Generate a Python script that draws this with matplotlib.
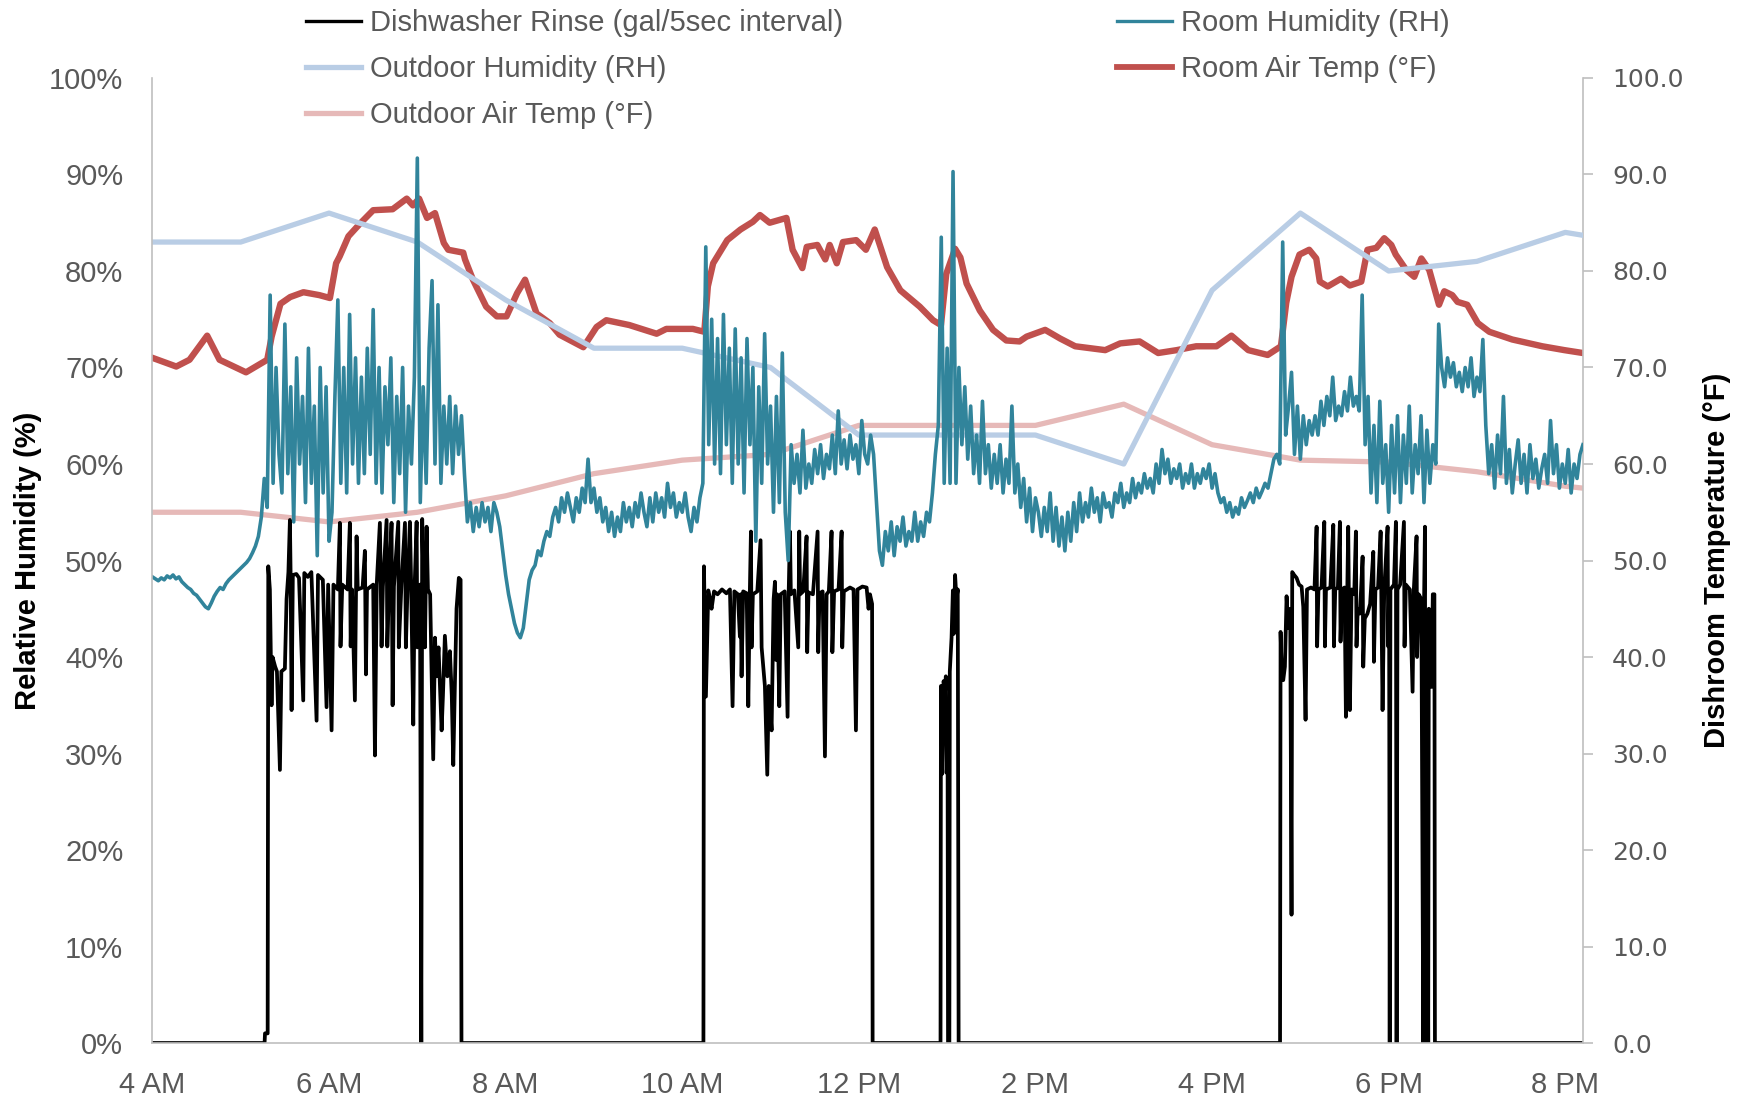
import numpy as np
import matplotlib
matplotlib.use('Agg')
import matplotlib.pyplot as plt
from matplotlib.lines import Line2D

# ---------------------------------------------------------------------------
# data (hours after midnight)

# outdoor weather station, hourly
out_hours = [4, 5, 6, 7, 8, 9, 10, 11, 12, 13, 14, 15, 16, 17, 18, 19, 20, 20.2]
outdoor_rh = [83, 83, 86, 83, 77, 72, 72, 70, 63, 63, 63, 60, 78, 86, 80, 81, 84, 83.7]
outdoor_temp = [55, 55, 54, 55, 56.7, 59, 60.4, 61, 64, 64, 64, 66.2, 62, 60.4, 60.2, 59.2, 57.7, 57.5]

# room air temperature (°F)
room_t_hours = [4.00, 4.27, 4.42, 4.62, 4.76, 5.06, 5.30, 5.35, 5.45, 5.56, 5.71, 5.89, 6.01,
                6.08, 6.12, 6.22, 6.35, 6.50, 6.72, 6.88, 6.95, 7.02, 7.11, 7.20, 7.30, 7.35,
                7.52, 7.54, 7.63, 7.78, 7.90, 8.01, 8.13, 8.22, 8.35, 8.50, 8.61, 8.88, 9.03,
                9.14, 9.40, 9.71, 9.82, 10.12, 10.25, 10.29, 10.35, 10.51, 10.66, 10.80, 10.88,
                10.99, 11.18, 11.25, 11.36, 11.41, 11.53, 11.62, 11.67, 11.75, 11.82, 11.97,
                12.08, 12.18, 12.32, 12.47, 12.69, 12.84, 12.93, 12.99, 13.09, 13.15, 13.22,
                13.37, 13.52, 13.67, 13.82, 13.90, 14.11, 14.28, 14.45, 14.79, 14.96, 15.18,
                15.39, 15.60, 15.82, 16.05, 16.22, 16.41, 16.63, 16.78, 16.84, 16.90, 16.99,
                17.10, 17.18, 17.22, 17.31, 17.46, 17.56, 17.69, 17.76, 17.86, 17.95, 18.03,
                18.08, 18.20, 18.29, 18.37, 18.46, 18.57, 18.63, 18.72, 18.78, 18.89, 19.01,
                19.14, 19.40, 19.74, 19.99, 20.20]
room_temp = [71.0, 70.1, 70.8, 73.3, 70.8, 69.5, 70.8, 73.2, 76.6, 77.3, 77.8, 77.5, 77.2,
             80.8, 81.5, 83.6, 84.9, 86.3, 86.4, 87.5, 86.8, 87.5, 85.5, 86.0, 82.9, 82.2,
             81.9, 81.2, 79.1, 76.3, 75.3, 75.3, 77.7, 79.1, 75.6, 74.6, 73.4, 72.1, 74.2,
             74.9, 74.4, 73.5, 74.0, 74.0, 73.7, 78.4, 80.8, 83.2, 84.3, 85.1, 85.8,
             85.0, 85.5, 82.2, 80.3, 82.5, 82.7, 81.2, 82.7, 80.8, 83.0, 83.2,
             82.2, 84.3, 80.4, 78.0, 76.3, 74.9, 74.4, 79.7, 82.3, 81.4, 78.7,
             75.9, 73.9, 72.8, 72.7, 73.2, 73.9, 73.0, 72.2, 71.8, 72.5, 72.7,
             71.5, 71.8, 72.2, 72.2, 73.3, 71.8, 71.3, 72.2, 76.7, 79.4, 81.7,
             82.2, 81.3, 78.9, 78.4, 79.2, 78.5, 78.9, 82.2, 82.4, 83.4, 82.7,
             81.7, 80.1, 79.4, 81.3, 80.1, 76.5, 77.9, 77.5, 76.8, 76.5, 74.6,
             73.7, 72.9, 72.2, 71.8, 71.5]

# room relative humidity (%), one reading every 2 minutes from 4:00
room_rh = [
    48.3, 48.1, 47.9, 48.2, 48.0, 48.4, 48.2, 48.5, 48.1, 48.3, 47.8, 47.5, 47.2, 47.0, 46.6,
    46.4, 46.0, 45.6, 45.2, 45.0, 45.6, 46.3, 46.8, 47.2, 47.0, 47.6, 48.0, 48.3, 48.6, 48.9,
    49.2, 49.5, 49.8, 50.2, 50.8, 51.5, 52.5, 54.5, 58.5, 55.5, 77.5, 58, 70, 61, 57, 74.5,
    59, 68, 54, 71, 60, 67, 56, 72, 58, 66, 50.5, 70, 57, 68, 52,
    55, 67, 77, 58, 70, 57, 75.5, 60, 71, 58, 69, 59, 72, 61, 76,
    58, 70, 57, 68, 62, 71, 56, 67, 59, 70, 55, 66, 60, 69, 91.7,
    56, 68, 58, 72, 79, 60, 76.5, 58, 66, 60, 67, 59, 66, 61, 65,
    59, 54, 56, 53, 55.5, 53.5, 56, 54, 55.5, 53, 56, 55, 53.5, 51, 48.5,
    46.5, 45, 43.5, 42.5, 42, 43, 45.5, 48, 49, 49.5, 51, 50.5, 52, 53, 52.5, 54.5,
    55.5, 54, 56.5, 55, 57, 55.5, 54, 56.5, 55, 57.5, 56, 60.5, 56, 57.5, 55,
    56.5, 54, 55.5, 53, 55, 52.5, 54.5, 53, 56, 54, 55.5, 53.5, 56, 54.5, 57,
    55, 53.5, 56.5, 54, 57, 55, 56.5, 54.5, 58, 55.5, 57, 54.5, 56, 55, 57,
    54.5, 53, 55.5, 54, 56.5, 58, 82.5, 62, 75, 60, 73, 59, 75.5, 62, 72,
    58, 74, 60, 71, 57, 73, 62, 70, 52, 68, 58, 73.5, 60, 66, 55,
    67, 56, 71.5, 55, 50, 62, 58, 61, 57, 63.5, 57.5, 60, 58, 61.5, 59, 62,
    58.5, 61, 59.5, 63, 59, 65.5, 60, 62.5, 59.5, 63, 60.5, 62, 59, 64.5, 61,
    60, 63, 61, 56, 51, 49.5, 53, 51, 54, 50.5, 53.5, 52, 54.5, 51.5, 53,
    52, 55, 52, 54, 52.5, 55, 54, 57, 61, 64, 83.5, 58, 72, 58, 90.3,
    58, 70, 62, 68, 60.5, 66, 59, 63, 58, 66.5, 59, 62, 57.5, 61, 58,
    62, 57, 60.5, 58, 66, 57, 60, 55.5, 58.5, 54, 57.5, 53, 56.5, 55, 52.5, 55.5,
    53, 57, 52, 55.5, 51.5, 54.5, 51, 55, 52, 56, 53, 57, 54, 56, 54.5,
    57.5, 55, 56.5, 54, 57, 55.5, 56, 54.5, 57, 56, 58, 55.5, 57, 56, 58.5,
    56.5, 58, 57, 59, 57.5, 58.5, 57, 60, 58, 61.5, 59, 60.5, 58, 59.5, 58.5,
    60, 57.5, 59, 58, 60, 57.5, 59, 58, 59.5, 58.5, 60, 57.5, 59, 57, 56,
    56.5, 55, 56, 54.5, 55.5, 54.8, 56.5, 55.5, 56.2, 57, 56, 57.5, 56.5, 57.2, 58,
    57.5, 59, 60.5, 61, 60, 83, 63, 66, 69.5, 61, 66, 60.5, 65, 62, 64.5, 63,
    65, 63, 66.5, 64, 67, 65, 69, 64.5, 66, 65, 67.5, 65.5, 69, 66, 67,
    65.5, 77.5, 62, 67, 57, 64, 56, 66.5, 58, 62, 55, 64, 57, 65, 56,
    63, 58, 66, 57, 62, 59, 65, 56, 63.5, 58, 62, 60, 74.5, 70, 68,
    71, 69, 70.5, 68, 69.5, 67.5, 70, 68, 71, 67, 69, 67.5, 72.9, 64, 59,
    62, 57.5, 63, 59, 67, 58, 61.5, 57, 60, 62.5, 58, 61, 57, 62, 58.5,
    60.5, 57.5, 59.5, 61, 58, 64.5, 59, 62, 57.5, 60, 58, 61.5, 57, 60, 58.5, 61,
    62,
]

# dishwasher rinse flow (gal / 5 sec interval): (hour, value) break points
rinse_points = [
    (4.00, 0), (5.27, 0), (5.275, 1), (5.305, 1), (5.312, 49.4), (5.33, 47), (5.349, 35),
    (5.36, 40), (5.39, 39), (5.41, 38.5), (5.444, 28.3), (5.46, 38.5), (5.50, 38.8),
    (5.519, 46), (5.54, 48.8), (5.557, 54.2), (5.565, 48.5), (5.576, 34.5), (5.59, 48.5),
    (5.63, 48.6), (5.66, 48.2), (5.708, 35.5), (5.72, 48.7), (5.76, 48.3), (5.80, 48.8),
    (5.859, 33.4), (5.875, 48.5), (5.93, 48.0), (5.972, 34.8), (5.99, 47.5), (6.029, 32.4),
    (6.05, 47.5), (6.10, 47.0), (6.123, 53.9), (6.13, 41.1), (6.15, 47.5), (6.21, 47.0),
    (6.236, 53.9), (6.245, 41.1), (6.26, 47.0), (6.293, 35.5), (6.312, 52.5), (6.325, 47.0),
    (6.38, 47.2), (6.406, 51.0), (6.418, 38.2), (6.43, 47.0), (6.50, 47.5), (6.52, 29.8),
    (6.54, 47.5), (6.576, 53.9), (6.595, 41.1), (6.61, 47.3), (6.652, 54.2), (6.66, 41.1),
    (6.68, 47.5), (6.708, 53.9), (6.72, 35.0), (6.735, 47.3), (6.784, 54.0), (6.79, 41.0),
    (6.82, 47.5), (6.86, 53.9), (6.87, 41.0), (6.89, 47.5), (6.916, 54.0), (6.93, 47.5),
    (6.954, 33.0), (6.97, 47.5), (6.992, 54.0), (7.00, 41.0), (7.03, 47.5), (7.045, 0),
    (7.055, 54.3), (7.07, 47.0), (7.086, 41.0), (7.105, 53.5), (7.12, 47.0), (7.145, 46.5),
    (7.18, 29.4), (7.20, 42.0), (7.218, 38.0), (7.24, 41.0), (7.275, 32.4), (7.29, 36.0),
    (7.312, 42.2), (7.34, 38.0), (7.369, 40.6), (7.39, 36.0), (7.407, 28.8), (7.425, 37.0),
    (7.444, 45.0), (7.47, 48.2), (7.49, 48.0), (7.50, 0),
    (10.24, 0), (10.246, 49.4), (10.268, 35.9), (10.295, 46.9), (10.31, 46.2), (10.332, 45.0),
    (10.36, 46.8), (10.40, 46.5), (10.45, 47.0), (10.50, 46.6), (10.54, 47.0), (10.57, 34.9),
    (10.59, 46.8), (10.63, 46.5), (10.653, 42.1), (10.662, 46.5), (10.672, 38.0), (10.69, 46.8),
    (10.73, 46.6), (10.748, 34.9), (10.765, 46.5), (10.778, 53.0), (10.785, 41.0), (10.80, 46.5),
    (10.85, 46.8), (10.887, 52.1), (10.899, 41.0), (10.936, 37.0), (10.963, 27.8), (10.98, 37.0),
    (11.012, 32.4), (11.035, 46.0), (11.05, 47.8), (11.061, 39.7), (11.075, 46.5), (11.099, 34.9),
    (11.115, 46.5), (11.16, 46.8), (11.193, 33.8), (11.205, 46.5), (11.22, 53.0), (11.23, 46.5),
    (11.27, 46.9), (11.314, 41.0), (11.325, 53.0), (11.335, 46.5), (11.37, 46.8), (11.408, 52.5),
    (11.415, 40.5), (11.43, 46.7), (11.48, 46.5), (11.533, 53.0), (11.54, 40.5), (11.555, 46.6),
    (11.59, 46.8), (11.616, 29.7), (11.635, 46.5), (11.66, 46.8), (11.691, 53.0), (11.70, 40.5),
    (11.72, 46.8), (11.77, 47.0), (11.805, 53.0), (11.812, 41.0), (11.83, 46.8), (11.90, 47.2),
    (11.94, 47.0), (11.967, 32.4), (11.985, 47.0), (12.04, 47.3), (12.088, 47.2), (12.11, 45.0),
    (12.126, 46.5), (12.15, 45.5), (12.156, 0),
    (12.925, 0), (12.93, 37.0), (12.945, 27.9), (12.96, 37.5), (12.975, 36.0), (12.985, 38.0),
    (12.995, 28.0), (13.005, 30.0), (13.01, 0), (13.025, 0), (13.03, 38.5), (13.05, 42.0),
    (13.065, 46.9), (13.075, 42.4), (13.09, 48.5), (13.105, 46.0), (13.12, 47.0), (13.13, 0),
    (16.77, 0), (16.776, 42.6), (16.79, 38.0), (16.806, 37.6), (16.825, 39.0), (16.844, 46.3),
    (16.863, 43.0), (16.885, 45.0), (16.90, 13.3), (16.908, 48.8), (16.93, 48.5), (16.957, 48.2),
    (16.985, 47.5), (17.014, 47.3), (17.033, 45.2), (17.045, 40.0), (17.059, 33.5), (17.075, 47.0),
    (17.12, 47.2), (17.16, 47.0), (17.184, 53.5), (17.19, 41.1), (17.205, 47.0), (17.24, 47.2),
    (17.271, 54.0), (17.278, 41.1), (17.29, 47.0), (17.34, 47.2), (17.373, 53.7), (17.38, 41.1),
    (17.395, 47.0), (17.425, 47.2), (17.448, 54.0), (17.455, 41.6), (17.47, 47.0), (17.50, 47.2),
    (17.516, 33.8), (17.53, 46.0), (17.542, 53.5), (17.561, 34.5), (17.58, 47.0), (17.61, 46.5),
    (17.629, 53.0), (17.636, 41.1), (17.65, 45.0), (17.675, 44.5), (17.705, 50.4), (17.712, 39.0),
    (17.73, 44.0), (17.76, 44.5), (17.79, 45.5), (17.826, 50.9), (17.833, 39.5), (17.85, 47.0),
    (17.88, 47.2), (17.909, 53.0), (17.931, 34.5), (17.95, 47.0), (17.988, 53.5), (17.995, 41.1),
    (18.005, 47.0), (18.012, 0), (18.02, 47.0), (18.06, 47.5), (18.082, 54.0), (18.09, 0),
    (18.10, 47.0), (18.13, 47.5), (18.173, 54.0), (18.18, 41.1), (18.195, 47.5), (18.24, 47.0),
    (18.271, 36.4), (18.285, 47.0), (18.316, 52.5), (18.322, 40.0), (18.34, 46.5), (18.37, 46.0),
    (18.392, 0), (18.40, 45.0), (18.411, 53.5), (18.42, 0), (18.43, 44.0), (18.448, 0),
    (18.455, 45.0), (18.47, 44.0), (18.486, 36.9), (18.50, 46.5), (18.518, 46.5), (18.524, 0),
    (20.2, 0),
]

x_ticks = [4, 6, 8, 10, 12, 14, 16, 18, 20]
x_labels = ['4 AM', '6 AM', '8 AM', '10 AM', '12 PM', '2 PM', '4 PM', '6 PM', '8 PM']

#-------------------------------------------------------------------------------------------------

plt.rcParams['font.family'] = ['Liberation Sans Narrow', 'Liberation Sans', 'DejaVu Sans']

c_rinse = 'black'
c_room_rh = '#31849B'
c_out_rh = '#B9CDE5'
c_room_t = '#C0504D'
c_out_t = '#E6B9B8'
grey = '#595959'
axis_grey = '#BFBFBF'

rh_hours = 4 + np.arange(len(room_rh)) * 2 / 60
rinse_hours, rinse_gal = zip(*rinse_points)

fig = plt.figure(figsize=(17.46, 11.0), dpi=100)
ax = fig.add_axes([0.0873, 0.0518, 0.8193, 0.8773])
ax2 = ax.twinx()

# temperatures + rinse on the secondary axis, humidity on the primary
ax.set_zorder(ax2.get_zorder() + 1)
ax.patch.set_visible(False)

ax2.plot(out_hours, outdoor_temp, color=c_out_t, lw=3.8)
ax2.plot(room_t_hours, room_temp, color=c_room_t, lw=4.6)
ax2.plot(rinse_hours, rinse_gal, color=c_rinse, lw=2.7)
ax.plot(out_hours, outdoor_rh, color=c_out_rh, lw=3.8)
ax.plot(rh_hours, room_rh, color=c_room_rh, lw=2.6)

ax.set_xlim(4, 20.2)
ax.set_ylim(0, 100)
ax2.set_ylim(0, 100)

ax.set_xticks(x_ticks)
ax.set_xticklabels(x_labels)
ax.set_yticks(range(0, 101, 10))
ax.set_yticklabels([f'{v}%' for v in range(0, 101, 10)])
ax2.set_yticks(range(0, 101, 10))
ax2.set_yticklabels([f'{v:.1f}' for v in range(0, 101, 10)], fontfamily='DejaVu Sans')

ax.tick_params(axis='x', length=0, pad=20, labelsize=21, labelcolor=grey)
ax.tick_params(axis='y', length=0, pad=21, labelsize=21, labelcolor=grey)
ax2.tick_params(axis='y', direction='out', length=7, width=1.2, color=axis_grey,
                pad=14, labelsize=18, labelcolor=grey)

for s in ['top', 'right']:
    ax.spines[s].set_visible(False)
for s in ['top', 'left', 'bottom']:
    ax2.spines[s].set_visible(False)
ax.spines['left'].set_color(axis_grey)
ax.spines['bottom'].set_color(axis_grey)
ax2.spines['right'].set_color(axis_grey)
ax.spines['left'].set_linewidth(1.2)
ax.spines['bottom'].set_linewidth(1.2)
ax2.spines['right'].set_linewidth(1.2)

ax.set_ylabel('Relative Humidity (%)', fontsize=21, fontweight='bold')
ax.yaxis.set_label_coords(-0.077, 0.5)
ax2.set_ylabel('Dishroom Temperature (°F)', fontsize=21, fontweight='bold')
ax2.yaxis.set_label_coords(1.084, 0.5)

# legend, two columns at the top
h_rinse = Line2D([], [], color=c_rinse, lw=2.4)
h_out_rh = Line2D([], [], color=c_out_rh, lw=3.8)
h_out_t = Line2D([], [], color=c_out_t, lw=3.8)
h_room_rh = Line2D([], [], color=c_room_rh, lw=2.4)
h_room_t = Line2D([], [], color=c_room_t, lw=4.2)

leg_kw = dict(loc='upper left', frameon=False, fontsize=21, labelcolor=grey,
              handlelength=1.9, handletextpad=0.3, labelspacing=0.62,
              borderpad=0, borderaxespad=0)
fig.legend([h_rinse, h_out_rh, h_out_t],
           ['Dishwasher Rinse (gal/5sec interval)', 'Outdoor Humidity (RH)', 'Outdoor Air Temp (°F)'],
           bbox_to_anchor=(306 / 1746, 1 - 9 / 1100), **leg_kw)
fig.legend([h_room_rh, h_room_t],
           ['Room Humidity (RH)', 'Room Air Temp (°F)'],
           bbox_to_anchor=(1117 / 1746, 1 - 9 / 1100), **leg_kw)

fig.savefig('out.png', dpi=100)
